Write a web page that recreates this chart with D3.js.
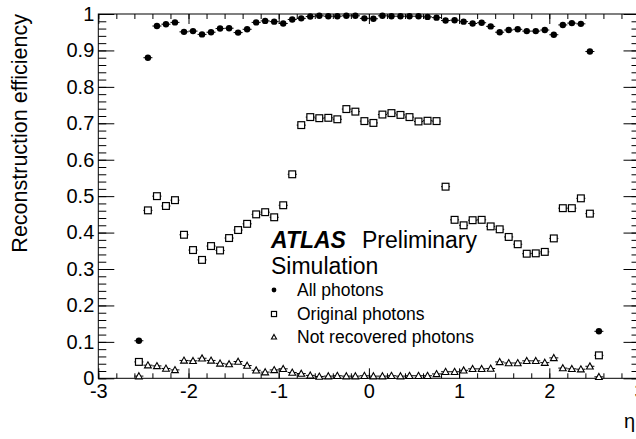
<!DOCTYPE html>
<html>
<head>
<meta charset="utf-8">
<script src="https://cdn.jsdelivr.net/npm/d3@7"></script>
<style>
  body { margin: 0; background: #fff; }
  svg { font-family: "Liberation Sans", Arial, sans-serif; }
</style>
</head>
<body>
<svg id="canvas" width="636" height="439"></svg>
<script>
// eta bin centres
let etaBins = [-2.55, -2.45, -2.35, -2.25, -2.15, -2.05, -1.95, -1.85, -1.75, -1.65,
	-1.55, -1.45, -1.35, -1.25, -1.15, -1.05, -0.95, -0.85, -0.75, -0.65,
	-0.55, -0.45, -0.35, -0.25, -0.15, -0.05, 0.05, 0.15, 0.25, 0.35,
	0.45, 0.55, 0.65, 0.75, 0.85, 0.95, 1.05, 1.15, 1.25, 1.35,
	1.45, 1.55, 1.65, 1.75, 1.85, 1.95, 2.05, 2.15, 2.25, 2.35,
	2.45, 2.55];

let allPhotons = [0.103, 0.880, 0.967, 0.972, 0.977, 0.951, 0.953, 0.944, 0.950, 0.960,
	0.961, 0.949, 0.958, 0.977, 0.981, 0.979, 0.974, 0.985, 0.988, 0.993,
	0.995, 0.994, 0.994, 0.995, 0.995, 0.988, 0.987, 0.995, 0.994, 0.994,
	0.994, 0.994, 0.992, 0.990, 0.982, 0.983, 0.979, 0.974, 0.976, 0.966,
	0.950, 0.956, 0.958, 0.953, 0.953, 0.956, 0.943, 0.970, 0.975, 0.973,
	0.897, 0.129];

let originalPhotons = [0.045, 0.461, 0.500, 0.473, 0.489, 0.394, 0.352, 0.325, 0.363, 0.351,
	0.385, 0.407, 0.424, 0.450, 0.456, 0.442, 0.475, 0.560, 0.695, 0.717,
	0.714, 0.715, 0.711, 0.739, 0.732, 0.706, 0.701, 0.724, 0.728, 0.723,
	0.717, 0.705, 0.707, 0.706, 0.526, 0.435, 0.420, 0.434, 0.435, 0.417,
	0.409, 0.388, 0.368, 0.342, 0.343, 0.347, 0.384, 0.467, 0.467, 0.494,
	0.452, 0.063];

let notRecovered = [0.006, 0.036, 0.034, 0.027, 0.023, 0.049, 0.048, 0.055, 0.049, 0.041,
	0.039, 0.046, 0.035, 0.022, 0.017, 0.023, 0.026, 0.016, 0.013, 0.008,
	0.005, 0.006, 0.007, 0.006, 0.006, 0.007, 0.006, 0.006, 0.007, 0.006,
	0.007, 0.007, 0.007, 0.012, 0.018, 0.018, 0.022, 0.026, 0.026, 0.027,
	0.045, 0.042, 0.042, 0.048, 0.048, 0.043, 0.056, 0.028, 0.026, 0.025,
	0.033, 0.004];

let xTicks = [-3, -2, -1, 0, 1, 2, 3];
let yTicks = [0, 0.1, 0.2, 0.3, 0.4, 0.5, 0.6, 0.7, 0.8, 0.9, 1];
let legendLabels = ['All photons', 'Original photons', 'Not recovered photons'];

let binHalfWidth = 0.05;

let canvas = d3.select('#canvas');

let plotLeft = 98.3, plotRight = 639.5, plotTop = 14, plotBottom = 378.3;

let xScale = d3.scaleLinear().domain([-3, 3]).range([plotLeft, plotRight]);
let yScale = d3.scaleLinear().domain([0, 1]).range([plotBottom, plotTop]);

let xMinor = d3.range(-30, 31, 2).map((d) => d / 10);
let yMinor = d3.range(0, 51).map((d) => d / 50);

// frame
canvas.append('rect')
	.attr('x', plotLeft).attr('y', plotTop)
	.attr('width', plotRight - plotLeft).attr('height', plotBottom - plotTop)
	.attr('fill', 'none').attr('stroke', '#000').attr('stroke-width', 1);

let drawAxis = (axis, transform) => {
	let g = canvas.append('g').attr('transform', transform).call(axis);
	g.select('.domain').remove();
	g.selectAll('line').attr('stroke', '#000');
	return g;
};

// minor ticks
drawAxis(d3.axisBottom(xScale).tickValues(xMinor).tickSize(-5).tickFormat(''), `translate(0,${plotBottom})`);
drawAxis(d3.axisTop(xScale).tickValues(xMinor).tickSize(-5).tickFormat(''), `translate(0,${plotTop})`);
drawAxis(d3.axisLeft(yScale).tickValues(yMinor).tickSize(-8).tickFormat(''), `translate(${plotLeft},0)`);
drawAxis(d3.axisRight(yScale).tickValues(yMinor).tickSize(-8).tickFormat(''), `translate(${plotRight},0)`);

// major ticks + labels (ROOT style: plain hyphen for negatives)
let xAxisG = drawAxis(d3.axisBottom(xScale).tickValues(xTicks).tickSize(-10).tickPadding(6).tickFormat((d) => String(d)), `translate(0,${plotBottom})`);
xAxisG.selectAll('text').attr('font-size', 20).attr('fill', '#000')
	.attr('font-family', '"Liberation Sans", Arial, sans-serif');
drawAxis(d3.axisTop(xScale).tickValues(xTicks).tickSize(-10).tickFormat(''), `translate(0,${plotTop})`);

let yAxisG = drawAxis(d3.axisLeft(yScale).tickValues(yTicks).tickSize(-16).tickPadding(4).tickFormat((d) => d === 0 || d === 1 ? String(d) : d3.format('.1f')(d)), `translate(${plotLeft},0)`);
yAxisG.selectAll('text').attr('font-size', 20).attr('fill', '#000')
	.attr('font-family', '"Liberation Sans", Arial, sans-serif');
drawAxis(d3.axisRight(yScale).tickValues(yTicks).tickSize(-16).tickFormat(''), `translate(${plotRight},0)`);

// axis titles
canvas.append('text')
	.attr('transform', `translate(27,${plotTop}) rotate(-90)`)
	.attr('text-anchor', 'end')
	.attr('font-size', 21.5)
	.text('Reconstruction efficiency');

canvas.append('text')
	.attr('x', 635).attr('y', 428)
	.attr('text-anchor', 'end')
	.attr('font-size', 20)
	.text('η');

// series
let series = [
	{ values: allPhotons, marker: 'circle' },
	{ values: originalPhotons, marker: 'square' },
	{ values: notRecovered, marker: 'triangle' }
];

let drawMarker = (g, marker, x, y, s) => {
	if (marker === 'circle') {
		g.append('circle').attr('cx', x).attr('cy', y).attr('r', 3.2 * s).attr('fill', '#000');
	} else if (marker === 'square') {
		let a = 3.4 * s;
		g.append('rect').attr('x', x - a).attr('y', y - a).attr('width', 2 * a).attr('height', 2 * a)
			.attr('fill', '#fff').attr('stroke', '#000').attr('stroke-width', 1.2);
	} else {
		let a = 3.4 * s;
		g.append('path')
			.attr('d', `M${x},${y - a}L${x + a},${y + a * 0.8}L${x - a},${y + a * 0.8}Z`)
			.attr('fill', '#fff').attr('stroke', '#000').attr('stroke-width', 1.1);
	}
};

series.forEach((s) => {
	let g = canvas.append('g');
	g.selectAll('line')
		.data(etaBins)
		.enter()
		.append('line')
		.attr('x1', (d) => xScale(d - binHalfWidth))
		.attr('x2', (d) => xScale(d + binHalfWidth))
		.attr('y1', (d, i) => yScale(s.values[i]))
		.attr('y2', (d, i) => yScale(s.values[i]))
		.attr('stroke', '#000').attr('stroke-width', 1);
	etaBins.forEach((d, i) => {
		drawMarker(g, s.marker, xScale(d), yScale(s.values[i]), 1);
	});
});

// labels
let atlas = canvas.append('text').attr('x', 271).attr('y', 248).attr('font-size', 23);
atlas.append('tspan').attr('font-weight', 'bold').attr('font-style', 'italic').text('ATLAS');
atlas.append('tspan').attr('x', 362).text('Preliminary');
canvas.append('text').attr('x', 271).attr('y', 274).attr('font-size', 23).text('Simulation');

// legend
let legendY = [296, 320, 343];
series.forEach((s, i) => {
	let g = canvas.append('g');
	drawMarker(g, s.marker, 274, legendY[i] - 6, 0.75);
	g.append('text').attr('x', 297).attr('y', legendY[i]).attr('font-size', 17.5).text(legendLabels[i]);
});
</script>
</body>
</html>
